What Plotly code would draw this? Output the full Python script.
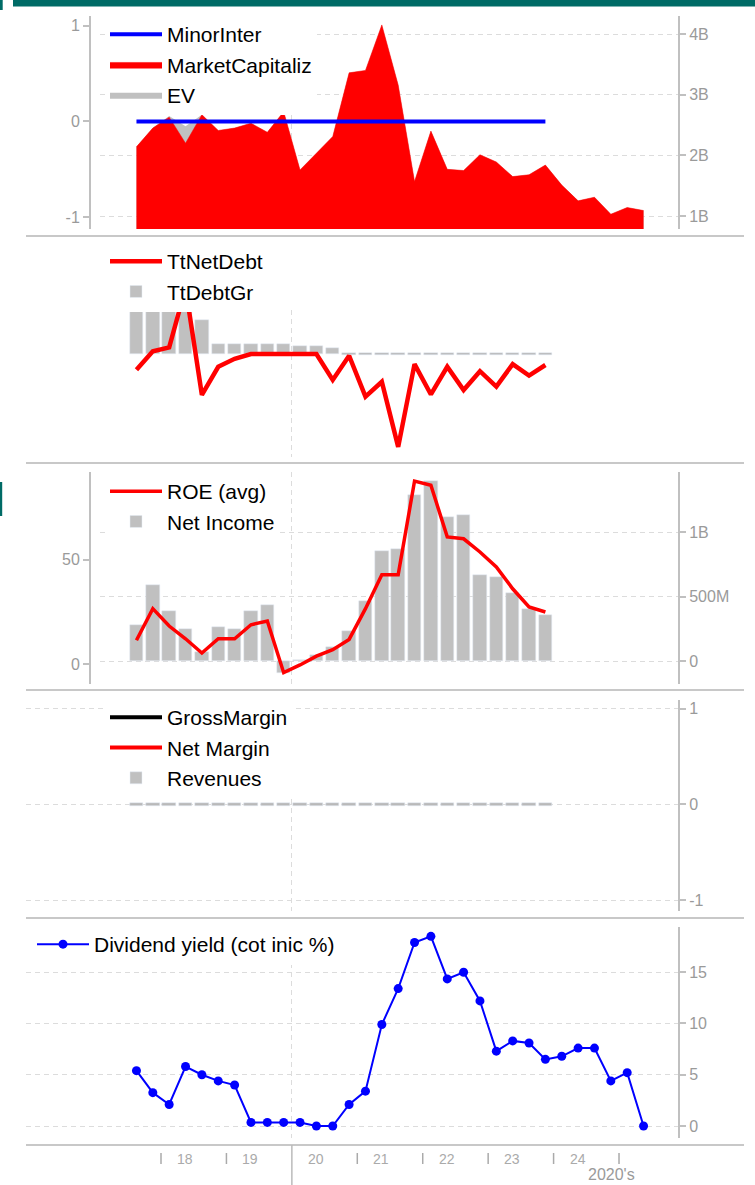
import plotly.graph_objects as go

# ---------------- data ----------------
quarters = ["2017Q3", "2017Q4", "2018Q1", "2018Q2", "2018Q3", "2018Q4",
            "2019Q1", "2019Q2", "2019Q3", "2019Q4", "2020Q1", "2020Q2",
            "2020Q3", "2020Q4", "2021Q1", "2021Q2", "2021Q3", "2021Q4",
            "2022Q1", "2022Q2", "2022Q3", "2022Q4", "2023Q1", "2023Q2",
            "2023Q3", "2023Q4", "2024Q1", "2024Q2", "2024Q3", "2024Q4",
            "2025Q1", "2025Q2"]

# panel 1 (billions / ratio)
market_cap_b = [2.14, 2.45, 2.63, 2.20, 2.67, 2.41, 2.45, 2.53, 2.38, 2.72,
                1.76, 2.03, 2.31, 3.36, 3.40, 4.15, 3.16, 1.57, 2.40, 1.77,
                1.75, 2.01, 1.89, 1.65, 1.68, 1.84, 1.51, 1.25, 1.31, 1.03,
                1.14, 1.09]
ev_b = [2.14, 2.45, 2.65, 2.48, 2.67, 2.41, 2.45, 2.53, 2.38, 2.72,
        1.76, 2.03, 2.31, 3.36, 3.40, 4.15, 3.16, 1.57, 2.40, 1.77,
        1.75, 2.01, 1.89, 1.65, 1.68, 1.84, 1.51, 1.25, 1.31, 1.03,
        1.14, 1.09]
minor_inter = [0, 0, 0, 0, 0, 0, 0, 0, 0, 0, 0, 0, 0, 0, 0, 0, 0, 0, 0, 0,
               0, 0, 0, 0, 0, 0]

# panel 2
tt_net_debt = [-0.36, 0.06, 0.15, 1.50, -0.93, -0.29, -0.11, 0.0, 0.0, 0.0,
               0.0, 0.0, -0.59, -0.04, -0.97, -0.63, -2.11, -0.23, -0.92,
               -0.29, -0.82, -0.39, -0.74, -0.23, -0.49, -0.25]
tt_debt_gr = [1.30, 1.30, 1.30, 1.30, 0.77, 0.23, 0.23, 0.23, 0.23, 0.23,
              0.19, 0.19, 0.14, 0, 0, 0, 0, 0, 0, 0, 0, 0, 0, 0, 0, 0]

# panel 3
roe_avg = [11.5, 26.6, 18.3, 12.2, 5.4, 12.2, 12.2, 18.9, 20.7, -4.0,
           -0.3, 3.9, 7.0, 11.9, 26.6, 42.8, 42.8, 87.6, 85.6, 60.9,
           60.0, 53.7, 46.5, 36.1, 27.4, 25.0]
net_income_b = [0.281, 0.587, 0.390, 0.250, 0.070, 0.266, 0.250, 0.390,
                0.436, -0.095, 0.005, 0.050, 0.110, 0.233, 0.463, 0.850,
                0.866, 1.284, 1.393, 1.114, 1.129, 0.664, 0.649, 0.525,
                0.405, 0.359]

# panel 4
gross_margin = [None]
net_margin = [None]
revenues = [0, 0, 0, 0, 0, 0, 0, 0, 0, 0, 0, 0, 0, 0, 0, 0, 0, 0, 0, 0,
            0, 0, 0, 0, 0, 0]

# panel 5
dividend_yield = [5.4, 3.25, 2.1, 5.8, 5.0, 4.4, 4.0, 0.35, 0.35, 0.35,
                  0.35, 0.0, 0.0, 2.1, 3.4, 9.9, 13.4, 17.9, 18.5, 14.35,
                  15.0, 12.2, 7.3, 8.3, 8.1, 6.5, 6.8, 7.6, 7.6, 4.4,
                  5.2, 0.0]

# tick labels
p1_left_ticks = [-1, 0, 1]
p1_left_labels = ["-1", "0", "1"]
p1_right_ticks_b = [1, 2, 3, 4]
p1_right_labels = ["1B", "2B", "3B", "4B"]
p2_ticks = [0]
p3_left_ticks = [0, 50]
p3_right_ticks_b = [0, 0.5, 1]
p3_right_labels = ["0", "500M", "1B"]
p4_ticks = [-1, 0, 1]
p4_labels = ["-1", "0", "1"]
p5_ticks = [0, 5, 10, 15]
tick_years = [2018, 2019, 2021, 2022, 2023, 2024, 2025]
label_years = [2018, 2019, 2020, 2021, 2022, 2023, 2024]
year_labels = ["18", "19", "20", "21", "22", "23", "24"]
decade_year = 2020
decade_label = "2020's"

# ---------------- geometry helpers ----------------
W, H = 755, 1185
ML, MR = 26, 77
PW = W - ML - MR
FONT = "Liberation Sans, Arial, sans-serif"


def px_x(px):
    return (px - ML) / PW


def px_y(py):
    return 1 - py / H


def year_at(px):
    return 2018 + (px - 161) / 65.43


def qx(q):
    return int(q[:4]) + (int(q[-1]) - 1) * 0.25 + 0.125


xq = [qx(q) for q in quarters]
x26 = xq[:26]

RED = "#ff0000"
BLUE = "#0000ff"
BARGRAY = "#c0c0c0"
STUBGRAY = "#b9b9b9"
BAR_W = 0.205

fig = go.Figure()

# ---- panel 1
fig.add_trace(go.Scatter(x=xq, y=[v * 1e9 for v in ev_b], name="EV", mode="lines",
                         fill="tozeroy", fillcolor=BARGRAY, line=dict(width=0, color=BARGRAY),
                         xaxis="x", yaxis="y", legend="legend", legendrank=3))
fig.add_trace(go.Scatter(x=xq, y=[v * 1e9 for v in market_cap_b], name="MarketCapitaliz",
                         mode="lines", fill="tozeroy", fillcolor=RED,
                         line=dict(width=0.5, color=RED),
                         xaxis="x", yaxis="y", legend="legend", legendrank=2))
fig.add_trace(go.Scatter(x=xq[:len(minor_inter)], y=minor_inter, name="MinorInter",
                         mode="lines", line=dict(width=4, color=BLUE),
                         xaxis="x", yaxis="y2", legend="legend", legendrank=1))

# ---- panel 2
eps2 = 1.2 / 44
fig.add_trace(go.Bar(x=x26, y=tt_debt_gr, name="TtDebtGr", marker_color=BARGRAY,
                     width=BAR_W, xaxis="x2", yaxis="y4", legend="legend2", legendrank=2))
fig.add_trace(go.Bar(x=x26, y=[2 * eps2 if v == 0 else None for v in tt_debt_gr],
                     base=-eps2, marker_color=STUBGRAY, width=BAR_W, showlegend=False,
                     hoverinfo="skip", xaxis="x2", yaxis="y4"))
fig.add_trace(go.Scatter(x=x26, y=tt_net_debt, name="TtNetDebt", mode="lines",
                         line=dict(width=4.5, color=RED),
                         xaxis="x2", yaxis="y4", legend="legend2", legendrank=1))

# ---- panel 3
fig.add_trace(go.Bar(x=x26, y=[v * 1e9 for v in net_income_b], name="Net Income",
                     marker_color=BARGRAY, width=BAR_W,
                     xaxis="x3", yaxis="y5", legend="legend3", legendrank=2))
fig.add_trace(go.Scatter(x=x26, y=roe_avg, name="ROE (avg)", mode="lines",
                         line=dict(width=3.5, color=RED),
                         xaxis="x3", yaxis="y6", legend="legend3", legendrank=1))

# ---- panel 4
eps4 = 1.2 / 95.8
fig.add_trace(go.Bar(x=x26, y=revenues, name="Revenues", marker_color=BARGRAY,
                     width=BAR_W, xaxis="x4", yaxis="y7", legend="legend4", legendrank=3))
fig.add_trace(go.Bar(x=x26, y=[2 * eps4 if v == 0 else None for v in revenues],
                     base=-eps4, marker_color=STUBGRAY, width=BAR_W, showlegend=False,
                     hoverinfo="skip", xaxis="x4", yaxis="y7"))
fig.add_trace(go.Scatter(x=[None], y=gross_margin, name="GrossMargin", mode="lines",
                         line=dict(width=4, color="#000000"),
                         xaxis="x4", yaxis="y7", legend="legend4", legendrank=1))
fig.add_trace(go.Scatter(x=[None], y=net_margin, name="Net Margin", mode="lines",
                         line=dict(width=4, color=RED),
                         xaxis="x4", yaxis="y7", legend="legend4", legendrank=2))

# ---- panel 5
fig.add_trace(go.Scatter(x=xq, y=dividend_yield, name="Dividend yield (cot inic %)",
                         mode="lines+markers", line=dict(width=2, color=BLUE),
                         marker=dict(size=9, color=BLUE),
                         xaxis="x5", yaxis="y8", legend="legend5"))

# ---------------- axes ----------------
grid = dict(showgrid=True, gridcolor="#dcdcdc", griddash="5px,4px", gridwidth=1)
nogrid = dict(showgrid=False)
tickf = dict(family=FONT, size=16, color="#9a9a9a")
yline = dict(showline=True, linecolor="#c0c0c0", linewidth=2, ticks="outside",
             ticklen=6, tickcolor="#c0c0c0", tickwidth=1.5, tickfont=tickf,
             zeroline=False, fixedrange=True)

xa_dom = [px_x(100), 1]
xb_dom = [0, 1]
xa_rng = [year_at(100), year_at(678)]
xb_rng = [year_at(26), year_at(678)]


def xaxis(dom, rng, anchor):
    return dict(domain=dom, range=rng, anchor=anchor, tickvals=[decade_year],
                showticklabels=False, ticks="", showline=False, zeroline=False,
                fixedrange=True, **grid)


P1 = [px_y(229), px_y(16)]
P2 = [px_y(457), px_y(244)]
P2c = [px_y(457), px_y(310)]
P3 = [px_y(684), px_y(472)]
P4 = [px_y(911), px_y(700)]
P5 = [px_y(1138), px_y(927)]
LEFT = px_x(90)

fig.update_layout(
    xaxis=xaxis(xa_dom, xa_rng, "y"),
    xaxis2=xaxis(xa_dom, xa_rng, "y3"),
    xaxis3=xaxis(xa_dom, xa_rng, "y5"),
    xaxis4=xaxis(xb_dom, xb_rng, "y7"),
    xaxis5=xaxis(xb_dom, xb_rng, "y8"),
    yaxis=dict(domain=P1, range=[0.786e9, 4.297e9], side="right", anchor="x",
               tickvals=[v * 1e9 for v in p1_right_ticks_b], ticktext=p1_right_labels,
               **yline, **grid),
    yaxis2=dict(overlaying="y", range=[-1.122, 1.101], side="left", anchor="free",
                position=LEFT, tickvals=p1_left_ticks, ticktext=p1_left_labels,
                **yline, **nogrid),
    yaxis3=dict(domain=P2, range=[-2.341, 2.5], side="left", anchor="free",
                position=LEFT, tickvals=p2_ticks, **yline, **nogrid),
    yaxis4=dict(domain=P2c, range=[-2.341, 1.0], anchor="x2", visible=False,
                fixedrange=True),
    yaxis5=dict(domain=P3, range=[-0.178e9, 1.465e9], side="right", anchor="x3",
                tickvals=[v * 1e9 for v in p3_right_ticks_b], ticktext=p3_right_labels,
                **yline, **grid),
    yaxis6=dict(overlaying="y5", range=[-9.42, 91.92], side="left", anchor="free",
                position=LEFT, tickvals=p3_left_ticks, **yline, **nogrid),
    yaxis7=dict(domain=P4, range=[-1.112, 1.091], side="right", anchor="x4",
                tickvals=p4_ticks, ticktext=p4_labels, **yline, **grid),
    yaxis8=dict(domain=P5, range=[-1.17, 19.41], side="right", anchor="x5",
                tickvals=p5_ticks, **yline, **grid),
)

# ---------------- legends ----------------
legfont = dict(family=FONT, size=21, color="#000000")


def leg(xpx, ypx):
    return dict(x=px_x(xpx), y=px_y(ypx), xanchor="left", yanchor="top",
                bgcolor="#ffffff", borderwidth=0, font=legfont, itemwidth=52,
                traceorder="normal", itemclick=False, itemdoubleclick=False)


fig.update_layout(
    legend=leg(105, 14),
    legend2=leg(105, 241),
    legend3=leg(105, 471),
    legend4=leg(105, 697),
    legend5=leg(32, 924),
)

# ---------------- decorations ----------------
shapes = []
SEP = "#c8c8c8"
for ypx in [236, 463, 690, 918, 1145]:
    shapes.append(dict(type="line", xref="paper", yref="paper", x0=px_x(26), x1=px_x(744),
                       y0=px_y(ypx), y1=px_y(ypx), line=dict(color=SEP, width=2)))
TEAL = "#006b66"
shapes.append(dict(type="rect", xref="paper", yref="paper", x0=px_x(13), x1=px_x(755),
                   y0=px_y(6.5), y1=px_y(0), fillcolor=TEAL, line=dict(width=0)))
shapes.append(dict(type="rect", xref="paper", yref="paper", x0=px_x(0), x1=px_x(2.7),
                   y0=px_y(10), y1=px_y(0), fillcolor=TEAL, line=dict(width=0)))
shapes.append(dict(type="rect", xref="paper", yref="paper", x0=px_x(0), x1=px_x(2.2),
                   y0=px_y(516), y1=px_y(482), fillcolor=TEAL, line=dict(width=0)))
for yr in tick_years:
    shapes.append(dict(type="line", xref="x5", yref="paper", x0=yr, x1=yr,
                       y0=px_y(1164), y1=px_y(1153), line=dict(color="#aaaaaa", width=1.5)))
shapes.append(dict(type="line", xref="x5", yref="paper", x0=decade_year, x1=decade_year,
                   y0=px_y(1185), y1=px_y(1145), line=dict(color="#bbbbbb", width=1.5)))

annotations = []
for yr, lab in zip(label_years, year_labels):
    annotations.append(dict(x=yr + 0.367, y=px_y(1159), xref="x5", yref="paper",
                            text=lab, showarrow=False, xanchor="center", yanchor="middle",
                            font=dict(family=FONT, size=14, color="#aaaaaa")))
annotations.append(dict(x=px_x(611), y=px_y(1174), xref="paper", yref="paper",
                        text=decade_label, showarrow=False, xanchor="center",
                        yanchor="middle", font=dict(family=FONT, size=16, color="#9a9a9a")))

fig.update_layout(
    width=W, height=H, margin=dict(l=ML, r=MR, t=0, b=0, pad=0),
    paper_bgcolor="#ffffff", plot_bgcolor="#ffffff",
    barmode="overlay", bargap=0, showlegend=True,
    shapes=shapes, annotations=annotations,
    font=dict(family=FONT),
)

fig.write_html("out.html",
               config={"displayModeBar": False, "staticPlot": False},
               post_script="document.body.style.margin='0';"
                           "document.body.style.padding='0';"
                           "document.body.style.overflow='hidden';")
